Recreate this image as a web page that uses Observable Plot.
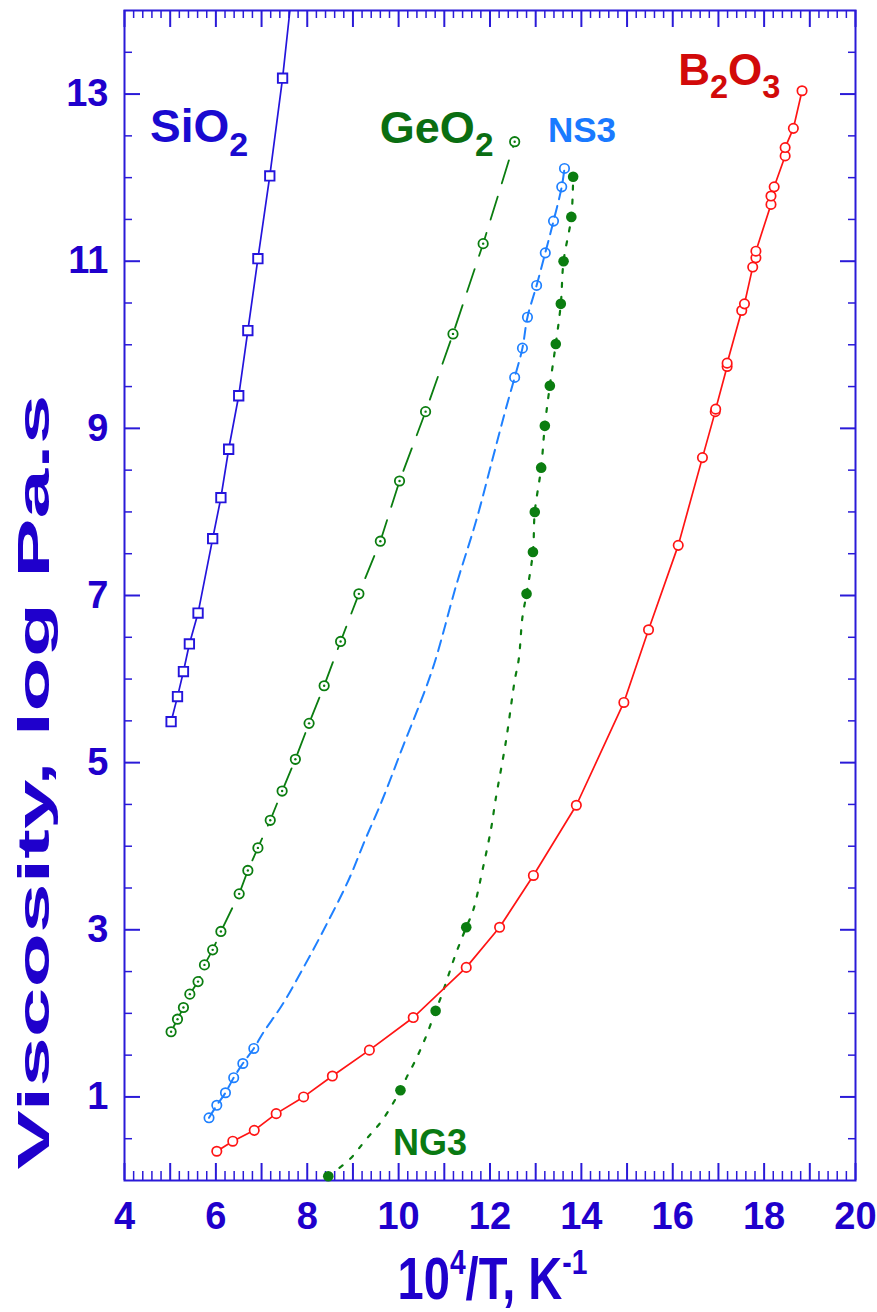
<!DOCTYPE html>
<html><head><meta charset="utf-8">
<script src="https://cdn.jsdelivr.net/npm/d3@7"></script>
<script src="https://cdn.jsdelivr.net/npm/@observablehq/plot@0.6"></script>
<style>body{margin:0;background:#fff;} svg{display:block}</style>
</head><body><div id="chart"></div>
<script>
// ---- data (x = 10^4/T, y = log viscosity) ----
const sio2X = [5.02,5.16,5.29,5.42,5.61,5.93,6.11,6.28,6.50,6.70,6.92,7.18,7.46];
const sio2Y = [5.49,5.79,6.09,6.42,6.79,7.68,8.17,8.75,9.39,10.17,11.03,12.02,13.19];
const sio2LineX = [5.02,5.16,5.29,5.42,5.61,5.93,6.11,6.28,6.50,6.70,6.92,7.18,7.46,7.62];
const sio2LineY = [5.49,5.79,6.09,6.42,6.79,7.68,8.17,8.75,9.39,10.17,11.03,12.02,13.19,14.0];

const geo2X = [5.02,5.16,5.29,5.43,5.61,5.75,5.93,6.11,6.51,6.70,6.92,7.19,7.45,7.74,8.04,8.37,8.73,9.13,9.60,10.02,10.59,11.19,11.85,12.54];
const geo2Y = [1.78,1.93,2.07,2.23,2.38,2.58,2.76,2.98,3.43,3.71,3.98,4.31,4.66,5.04,5.47,5.92,6.45,7.02,7.65,8.37,9.20,10.13,11.21,12.43];

const ns3X = [5.85,6.02,6.21,6.39,6.59,6.83,12.54,12.71,12.82,13.02,13.21,13.39,13.57,13.63];
const ns3Y = [0.75,0.90,1.05,1.23,1.40,1.58,9.61,9.96,10.33,10.71,11.10,11.48,11.89,12.11];
const ns3LineX = [5.85,6.02,6.21,6.39,6.59,6.83,7.05,7.45,7.95,8.39,8.90,9.27,9.64,10.07,10.73,11.27,11.70,12.05,12.32,12.54,12.71,12.82,13.02,13.21,13.39,13.57,13.63];
const ns3LineY = [0.75,0.90,1.05,1.23,1.40,1.58,1.78,2.10,2.58,3.03,3.59,4.08,4.55,5.16,6.10,7.14,7.90,8.62,9.18,9.61,9.96,10.33,10.71,11.10,11.48,11.89,12.11];

const ng3X = [8.46,10.04,10.81,11.48,12.80,12.94,12.98,13.12,13.20,13.31,13.44,13.55,13.61,13.78,13.82];
const ng3Y = [0.05,1.08,2.03,3.03,7.02,7.52,8.00,8.53,9.03,9.51,10.01,10.49,11.00,11.53,12.01];
const ng3LineX = [8.46,8.94,9.27,9.64,10.04,10.18,10.37,10.59,10.81,10.95,11.25,11.48,11.63,11.85,12.03,12.12,12.35,12.54,12.63,12.71,12.80,12.94,12.98,13.12,13.20,13.31,13.44,13.55,13.61,13.78,13.82];
const ng3LineY = [0.05,0.26,0.48,0.72,1.08,1.24,1.44,1.71,2.03,2.23,2.71,3.03,3.23,3.75,4.23,4.55,5.26,5.98,6.24,6.74,7.02,7.52,8.00,8.53,9.03,9.51,10.01,10.49,11.00,11.53,12.01];

const b2o3X = [6.02,6.37,6.84,7.32,7.92,8.55,9.36,10.32,11.48,12.21,12.95,13.89,14.93,15.47,16.12,16.65,16.93,16.94,17.19,17.19,17.51,17.57,17.75,17.82,17.82,18.15,18.15,18.22,18.46,18.46,18.64,18.83];
const b2o3Y = [0.35,0.47,0.60,0.80,1.00,1.25,1.56,1.95,2.55,3.03,3.65,4.49,5.72,6.59,7.60,8.65,9.20,9.23,9.74,9.78,10.41,10.49,10.93,11.04,11.12,11.68,11.78,11.89,12.26,12.36,12.59,13.04];

const xTickLabels = [4,6,8,10,12,14,16,18,20];
const yTickLabels = [1,3,5,7,9,11,13];
const xTitle = [["10",0],["4",1],["/T, K",0],["-1",1]];
const yTitle = "Viscosity, log Pa.s";
const seriesLabels = [
  {parts:[["SiO",0],["2",1]], x:4.57, y:12.42},
  {parts:[["GeO",0],["2",1]], x:9.60, y:12.41},
  {parts:[["NS3",0]], x:13.28, y:12.42},
  {parts:[["B",0],["2",1],["O",0],["3",1]], x:16.13, y:13.10},
  {parts:[["NG3",0]], x:9.89, y:0.30}
];
const labelSizes = [46,45,35,44,36];
const labelColors = ["#1a0ad0","#0a6e12","#1a7aff","#d20a0a","#0a7a12"];

// ---- build ----
const pts = (xs, ys) => xs.map((x,i) => ({x, y: ys[i]}));
const W = 877, H = 1312, mL = 124, mR = 22, mT = 10, mB = 132;
const iw = W - mL - mR, ih = H - mT - mB;
const AX = "#2a1ad8", TXT = "#1f00cc";
const FONT = "'Liberation Sans', Arial, Helvetica, sans-serif";
const BLUE = "#2414dc", GREEN = "#0b7d10", LBLUE = "#1f80ff", RED = "#ff1414";

const xAll = d3.range(20, 101).map(i => i / 5);
const xMajor = xAll.filter(v => Math.abs(v - Math.round(v)) < 1e-9);
const xMinor = xAll.filter(v => Math.abs(v - Math.round(v)) > 1e-9);
const yAll = d3.range(1, 28).map(i => i / 2);
const yMajor = yAll.filter(v => yTickLabels.includes(v));
const yMinor = yAll.filter(v => !yTickLabels.includes(v));

const plot = Plot.plot({
  width: W, height: H,
  marginLeft: mL, marginRight: mR, marginTop: mT, marginBottom: mB,
  style: {fontFamily: FONT, fontSize: "38px", fontWeight: "bold", color: TXT, background: "white", overflow: "visible"},
  x: {domain: [4, 20], ticks: xTickLabels, tickSize: 0, tickPadding: 22, label: null},
  y: {domain: [0, 14], ticks: yTickLabels, tickSize: 0, tickPadding: 16, label: null},
  marks: [
    // inward ticks on four sides
    Plot.ruleX(xMajor, {x: d => d, stroke: AX, strokeWidth: 2, insetTop: ih - 17}),
    Plot.ruleX(xMinor, {x: d => d, stroke: AX, strokeWidth: 1.5, insetTop: ih - 9}),
    Plot.ruleX(xMajor, {x: d => d, stroke: AX, strokeWidth: 2, insetBottom: ih - 17}),
    Plot.ruleX(xMinor, {x: d => d, stroke: AX, strokeWidth: 1.5, insetBottom: ih - 8}),
    Plot.ruleY(yMajor, {y: d => d, stroke: AX, strokeWidth: 2, insetRight: iw - 16}),
    Plot.ruleY(yMinor, {y: d => d, stroke: AX, strokeWidth: 1.5, insetRight: iw - 8}),
    Plot.ruleY(yMajor, {y: d => d, stroke: AX, strokeWidth: 2, insetLeft: iw - 15}),
    Plot.ruleY(yMinor, {y: d => d, stroke: AX, strokeWidth: 1.5, insetLeft: iw - 7}),
    Plot.frame({stroke: AX, strokeWidth: 2}),

    // SiO2
    Plot.line(pts(sio2LineX, sio2LineY), {x: "x", y: "y", stroke: BLUE, strokeWidth: 1.7, clip: true}),
    Plot.dot(pts(sio2X, sio2Y), {x: "x", y: "y", symbol: "square", r: 5.3, fill: "white", stroke: BLUE, strokeWidth: 1.9}),
    // GeO2
    Plot.line(pts(geo2X, geo2Y), {x: "x", y: "y", stroke: GREEN, strokeWidth: 1.8, strokeDasharray: "24,14"}),
    Plot.dot(pts(geo2X, geo2Y), {x: "x", y: "y", r: 4.7, fill: "white", stroke: GREEN, strokeWidth: 1.8}),
    Plot.dot(pts(geo2X, geo2Y), {x: "x", y: "y", r: 1.2, fill: GREEN}),
    // NS3
    Plot.line(pts(ns3LineX, ns3LineY), {x: "x", y: "y", stroke: LBLUE, strokeWidth: 2, strokeDasharray: "11,7", curve: "catmull-rom"}),
    Plot.dot(pts(ns3X, ns3Y), {x: "x", y: "y", r: 4.7, fill: "none", stroke: LBLUE, strokeWidth: 1.7}),
    // NG3
    Plot.line(pts(ng3LineX, ng3LineY), {x: "x", y: "y", stroke: GREEN, strokeWidth: 2.2, strokeDasharray: "4,10", curve: "catmull-rom"}),
    Plot.dot(pts(ng3X, ng3Y), {x: "x", y: "y", r: 5.3, fill: GREEN}),
    // B2O3
    Plot.line(pts(b2o3X, b2o3Y), {x: "x", y: "y", stroke: RED, strokeWidth: 1.7}),
    Plot.dot(pts(b2o3X, b2o3Y), {x: "x", y: "y", r: 4.7, fill: "white", stroke: RED, strokeWidth: 1.7})
  ]
});
document.getElementById("chart").appendChild(plot);

// ---- annotations with sub/superscripts ----
const sx = plot.scale("x"), sy = plot.scale("y");
const svg = d3.select(plot);
const g = svg.append("g").attr("font-family", FONT).attr("font-weight", "bold").attr("text-anchor", "start");

function rich(text, parts, size, subScale, shift) {
  let cur = 0;
  parts.forEach(([s, flag]) => {
    const target = flag ? shift : 0;
    const ts = text.append("tspan").text(s).attr("font-size", flag ? size * subScale : size);
    if (target !== cur) ts.attr("dy", target - cur);
    cur = target;
  });
}

seriesLabels.forEach((d, i) => {
  const size = labelSizes[i];
  const t = g.append("text")
    .attr("text-anchor", "start")
    .attr("x", sx.apply(d.x)).attr("y", sy.apply(d.y))
    .attr("fill", labelColors[i]);
  rich(t, d.parts, size, 0.74, size * 0.3);
});

// x title
const xt = g.append("text").attr("text-anchor", "middle").attr("fill", TXT);
rich(xt, xTitle, 56, 0.6, -24);
const xw = xt.node().getComputedTextLength();
xt.attr("transform", `translate(${(mL + W - mR) / 2 + 3},1299) scale(${190 / xw},1.05)`);

// y title
const yt = g.append("text").attr("text-anchor", "middle").attr("fill", TXT)
  .attr("font-size", 45).text(yTitle);
const yw = yt.node().getComputedTextLength();
yt.attr("transform", `translate(49,782) rotate(-90) scale(${775 / yw},1)`);
</script>
</body></html>
